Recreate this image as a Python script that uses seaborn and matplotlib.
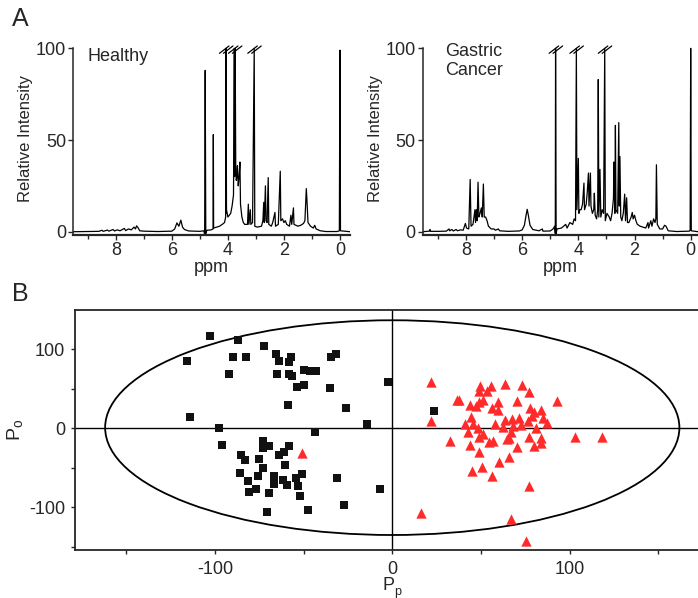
# NMR spectra (panel A) + OPLS-DA score plot (panel B)

import matplotlib
matplotlib.use("Agg")
import pandas as pd
import seaborn as sns
import matplotlib.pyplot as plt
from matplotlib.patches import Ellipse

#%% data

# spectrum vertices, healthy (ppm, relative intensity)
ppm_healthy = [9.52, 8.6, 8.5, 8.45, 8.3, 8.25, 8.1, 8.05, 7.95, 7.85, 7.7, 7.65, 7.55, 7.45, 7.35, 7.3,
               7.26, 7.2, 7.15, 7.0, 6.5, 6.0, 5.9, 5.82, 5.75, 5.68, 5.62, 5.55, 5.4, 5.0, 4.86, 4.83,
               4.81, 4.79, 4.75, 4.6, 4.53, 4.52, 4.51, 4.4, 4.3, 4.2, 4.12, 4.08, 4.07, 4.065, 4.06, 4.05,
               4.0, 3.95, 3.9, 3.85, 3.8, 3.77, 3.76, 3.74, 3.72, 3.7, 3.68, 3.66, 3.63, 3.6, 3.57, 3.55,
               3.5, 3.45, 3.4, 3.3, 3.27, 3.25, 3.2, 3.18, 3.12, 3.06, 3.04, 2.95, 2.8, 2.75, 2.72, 2.7,
               2.66, 2.64, 2.6, 2.56, 2.54, 2.45, 2.4, 2.32, 2.3, 2.2, 2.13, 2.11, 2.05, 2.0, 1.95, 1.9,
               1.8, 1.75, 1.72, 1.66, 1.64, 1.5, 1.4, 1.3, 1.25, 1.2, 1.17, 1.14, 1.05, 0.95, 0.9, 0.85,
               0.7, 0.5, 0.1, 0.02, 0.0, -0.02, -0.36]
int_healthy = [0.0, 0.2, 0.8, 0.2, 0.9, 0.3, 1.2, 0.4, 1.0, 0.5, 1.8, 0.6, 1.5, 1.0, 2.5, 1.5,
               3.2, 2.0, 0.5, 0.3, 0.1, 0.3, 1.5, 4.8, 3.0, 6.3, 2.5, 1.2, 0.4, 0.2, 0.5, -1.5,
               88.0, -1.0, 0.8, 1.0, 1.5, 53.0, 2.0, 2.5, 3.0, 4.0, 5.0, 8.0, 100.0, 10.0, 61.0, 12.0,
               8.0, 9.0, 10.0, 14.0, 20.0, 100.0, 30.0, 100.0, 35.0, 28.0, 30.0, 36.0, 25.0, 30.0, 38.0, 15.0,
               8.0, 5.0, 4.0, 4.0, 15.0, 4.0, 12.0, 4.0, 5.0, 100.0, 3.0, 2.5, 3.0, 6.0, 16.0, 5.0,
               25.0, 6.0, 5.0, 29.5, 4.0, 3.0, 5.0, 10.5, 3.0, 4.0, 33.0, 6.0, 7.0, 5.0, 6.0, 4.0,
               3.0, 9.0, 4.0, 13.0, 4.0, 3.0, 3.5, 4.5, 6.0, 23.5, 15.0, 5.0, 3.0, 2.0, 3.5, 1.5,
               0.5, 0.1, 0.1, 0.5, 99.0, 0.5, 0.0]

# spectrum vertices, gastric cancer
ppm_cancer = [9.54, 9.3, 9.28, 9.26, 9.0, 8.7, 8.6, 8.58, 8.5, 8.45, 8.35, 8.3, 8.2, 8.1, 8.02, 7.98,
              7.9, 7.85, 7.82, 7.75, 7.68, 7.66, 7.63, 7.6, 7.57, 7.54, 7.5, 7.45, 7.42, 7.38, 7.35, 7.3,
              7.25, 7.2, 7.1, 7.0, 6.95, 6.85, 6.8, 6.5, 6.1, 6.0, 5.92, 5.86, 5.82, 5.78, 5.72, 5.62,
              5.4, 5.28, 5.26, 5.0, 4.9, 4.84, 4.82, 4.81, 4.79, 4.76, 4.6, 4.45, 4.4, 4.3, 4.2, 4.15,
              4.1, 4.07, 4.05, 4.0, 3.98, 3.95, 3.9, 3.85, 3.8, 3.78, 3.72, 3.68, 3.64, 3.62, 3.57, 3.55,
              3.5, 3.45, 3.43, 3.4, 3.35, 3.31, 3.29, 3.27, 3.23, 3.2, 3.15, 3.1, 3.06, 3.04, 2.98, 2.9,
              2.85, 2.8, 2.75, 2.73, 2.7, 2.68, 2.66, 2.6, 2.56, 2.54, 2.52, 2.49, 2.45, 2.4, 2.35, 2.32,
              2.28, 2.25, 2.2, 2.12, 2.08, 2.05, 2.0, 1.95, 1.9, 1.8, 1.7, 1.6, 1.52, 1.5, 1.42, 1.38,
              1.32, 1.27, 1.24, 1.22, 1.19, 1.1, 1.0, 0.93, 0.88, 0.8, 0.5, 0.05, 0.02, 0.0, -0.02, -0.26]
int_cancer = [0.0, 0.3, 1.2, 0.2, 0.2, 0.3, 1.5, 0.5, 1.2, 0.4, 1.2, 0.5, 1.0, 0.8, 4.5, 2.0,
              1.5, 28.5, 3.0, 4.0, 12.0, 5.0, 12.0, 6.0, 27.0, 8.0, 10.0, 13.0, 8.0, 26.0, 8.0, 8.0,
              6.0, 3.0, 1.5, 1.5, 0.8, 1.5, 0.5, 0.2, 0.4, 1.0, 3.5, 9.0, 12.2, 9.0, 3.5, 1.2,
              0.5, 1.5, 0.3, 0.4, 1.5, 3.0, -1.0, 100.0, -1.0, 1.5, 2.0, 4.0, 2.0, 5.0, 4.0, 7.0,
              6.0, 100.0, 12.0, 40.0, 10.0, 12.0, 12.0, 15.0, 26.5, 12.0, 15.0, 22.0, 32.0, 14.0, 32.0, 14.0,
              10.0, 12.0, 21.0, 9.0, 7.0, 12.0, 83.0, 8.0, 34.0, 8.0, 12.0, 10.0, 100.0, 6.0, 10.0, 8.0,
              6.0, 10.0, 18.0, 38.0, 10.0, 58.0, 12.0, 10.0, 59.5, 14.0, 41.0, 8.0, 6.0, 10.0, 20.5, 6.0,
              18.5, 5.0, 5.0, 8.0, 10.5, 7.0, 9.0, 6.0, 4.0, 3.0, 2.5, 2.0, 5.0, 2.0, 6.0, 3.0,
              7.0, 5.0, 7.0, 36.5, 4.0, 1.5, 1.5, 3.5, 3.0, 0.5, 0.1, 0.3, 0.8, 100.0, 0.5, 0.0]

# truncated peaks (marked with //)
breaks_healthy = [4.07, 3.75, 3.06]
breaks_cancer = [4.81, 4.07, 3.06]

# score plot, healthy (squares)
healthy_x = [-102.6, -86.8, -115.6, -72.3, -89.6, -82.7, -65.6, -57.3, -64.1, -58.2, -34.4, -32.0,
             -92.3, -65.2, -58.2, -56.4, -49.6, -46.2, -43.0, -53.7, -50.0, -35.0, -2.4, -59.0,
             -26.3, -114.3, -97.5, -14.3, -43.6, -96.0, -72.9, -72.7, -69.3, -58.1, -61.3, -63.9,
             -85.3, -83.0, -75.0, -60.3, -72.7, -85.7, -75.7, -66.9, -66.9, -61.6, -59.4, -54.3,
             -50.7, -53.4, -81.2, -81.0, -76.8, -69.5, -52.3, -31.0, -6.8, -27.1, -70.9, -47.7, 23.3]
healthy_y = [117.6, 111.7, 85.3, 105.0, 90.7, 90.7, 93.7, 90.7, 84.9, 83.7, 90.7, 93.7,
             69.4, 68.6, 69.0, 66.9, 74.0, 73.2, 72.4, 53.1, 55.6, 51.4, 59.0, 29.7,
             25.5, 14.2, 0.0, 5.0, -5.0, -21.3, -15.9, -24.7, -22.2, -21.7, -29.3, -33.9,
             -33.9, -39.7, -38.5, -46.4, -50.6, -56.9, -60.2, -59.8, -70.3, -65.7, -71.5, -62.7,
             -57.7, -72.4, -66.5, -79.9, -76.5, -82.4, -85.7, -62.3, -76.1, -97.5, -106.2, -103.7, 21.7]

# score plot, gastric cancer (triangles)
cancer_x = [21.6, 21.8, 36.5, 37.8, 49.6, 55.6, 48.7, 53.4, 63.7, 73.3, 77.4, 51.1,
            48.7, 44.0, 47.0, 59.6, 56.5, 59.4, 70.6, 93.2, 77.8, 80.2, 83.8, 84.9,
            87.2, 78.7, 76.5, 44.5, 41.1, 45.8, 48.1, 43.0, 57.7, 63.7, 62.2, 67.8,
            71.6, 68.0, 72.5, 81.0, 66.9, 66.1, 65.0, 51.1, 49.2, 57.1, 54.7, 32.7,
            43.6, 77.4, 83.8, 83.8, 80.0, 70.6, 103.2, 118.5, 49.0, 66.1, 60.5, 50.6,
            44.9, 56.5, 77.4, 16.3, 66.9, 75.2, -51.1]
cancer_y = [58.6, 9.2, 35.5, 35.5, 53.6, 53.6, 46.8, 46.8, 56.5, 55.2, 46.0, 36.4,
            33.5, 30.1, 28.0, 33.5, 26.3, 23.8, 34.3, 34.3, 26.3, 21.0, 23.0, 13.8,
            7.5, 15.4, 9.2, 14.2, 5.0, 5.0, 0.9, -5.0, 5.0, 10.4, 2.1, 12.5,
            13.4, 3.4, 4.1, 0.0, -5.0, -11.7, -13.8, -7.5, -10.4, -15.4, -17.6, -15.9,
            -20.9, -10.9, -11.7, -17.9, -21.7, -23.8, -10.4, -10.9, -30.1, -36.0, -42.3, -49.3,
            -53.6, -60.6, -72.4, -107.5, -114.2, -142.2, -31.4]

# confidence ellipse (center, semi axes)
ell_center = (0, 1)
ell_a = 162
ell_b = 136

#%% style
sns.set_style("ticks")
plt.rcParams['font.family'] = ['Liberation Sans', 'DejaVu Sans']
plt.rcParams['mathtext.fontset'] = 'custom'
plt.rcParams['mathtext.rm'] = 'Liberation Sans'
plt.rcParams['mathtext.it'] = 'Liberation Sans'
plt.rcParams['axes.unicode_minus'] = False

fig = plt.figure(figsize=(6.98, 5.98), dpi=100)

#%% panel A
def espectro(ax, ppm, inten, xlim, breaks, texto, tx, ty):
    df = pd.DataFrame({"ppm": ppm, "I": inten})
    sns.lineplot(data=df, x="ppm", y="I", ax=ax, sort=False, estimator=None,
                 color="black", linewidth=0.9)
    ax.set_xlim(*xlim)
    ax.set_ylim(-2, 104)
    ax.spines['top'].set_visible(False)
    ax.spines['right'].set_visible(False)
    ax.spines['left'].set_bounds(-2, 100)
    ax.spines['bottom'].set_linewidth(1.6)
    ax.spines['left'].set_linewidth(1.1)
    ax.set_xticks([8, 6, 4, 2, 0])
    ax.set_xticks([9, 7, 5, 3, 1], minor=True)
    ax.set_yticks([0, 50, 100])
    ax.tick_params(direction='out', length=3.5, width=1, pad=1.5, labelsize=13)
    ax.tick_params(which='minor', direction='out', length=3, width=1)
    ax.set_xlabel("ppm", fontsize=13, labelpad=0)
    ax.set_ylabel("Relative Intensity", fontsize=12, labelpad=2)
    for b in breaks:
        for off in [0.06, -0.08]:
            ax.plot([b + off + 0.17, b + off - 0.17], [97.3, 101.3], color="black",
                    linewidth=0.9, clip_on=False)
    ax.text(tx, ty, texto, transform=ax.transAxes, ha='left', va='top',
            fontsize=13, linespacing=1.15)

axA1 = fig.add_axes([73.3/698, 0.6064, (350-73.3)/698, 0.325])
axA2 = fig.add_axes([422.7/698, 0.6064, (698-422.7)/698, 0.325])
espectro(axA1, ppm_healthy, int_healthy, (9.52, -0.36), breaks_healthy, "Healthy", 0.05, 0.965)
espectro(axA2, ppm_cancer, int_cancer, (9.54, -0.26), breaks_cancer, "Gastric\nCancer", 0.083, 0.99)

#%% panel B
axB = fig.add_axes([75/698, 1-550/598, (698-75)/698, (550-310)/598])
axB.axhline(0, color="black", linewidth=1.0, zorder=1)
axB.axvline(0, color="black", linewidth=1.0, zorder=1)
axB.add_patch(Ellipse(ell_center, 2*ell_a, 2*ell_b, fill=False, color="black",
                      linewidth=1.3, zorder=1))

sns.scatterplot(x=healthy_x, y=healthy_y, ax=axB, marker='s', s=30, color="#111111",
                linewidth=0, zorder=3)
sns.scatterplot(x=cancer_x, y=cancer_y, ax=axB, marker='^', s=55, color="#ff2b2b",
                linewidth=0, zorder=3)

axB.set_xlim(-179, 172.5)
axB.set_ylim(-154, 150)
axB.set_xticks([-100, 0, 100])
axB.set_xticks([-150, -50, 50, 150], minor=True)
axB.set_yticks([-100, 0, 100])
axB.set_yticks([-150, -50, 50], minor=True)
axB.spines['right'].set_visible(False)
for s in ['top', 'left', 'bottom']:
    axB.spines[s].set_linewidth(1.3)
axB.tick_params(direction='out', length=3, width=1, labelsize=13)
axB.tick_params(axis='x', pad=5)
axB.tick_params(axis='y', pad=4)
axB.tick_params(which='minor', direction='out', length=3, width=1)
axB.set_xlabel("")
axB.set_ylabel(r"P$_\mathregular{o}$", fontsize=14, labelpad=3)

# etiqueta eje x: P con subindice p (dos textos para que no se corte)
axB.text(0.513, -0.113, "P", transform=axB.transAxes, ha='right', va='top', fontsize=13)
axB.text(0.513, -0.152, "p", transform=axB.transAxes, ha='left', va='top', fontsize=9)

#%% panel letters
fig.text(0.017, 0.988, "A", fontsize=18, va='top', ha='left')
fig.text(0.017, 0.528, "B", fontsize=18, va='top', ha='left')

fig.savefig("out.png", dpi=100)
